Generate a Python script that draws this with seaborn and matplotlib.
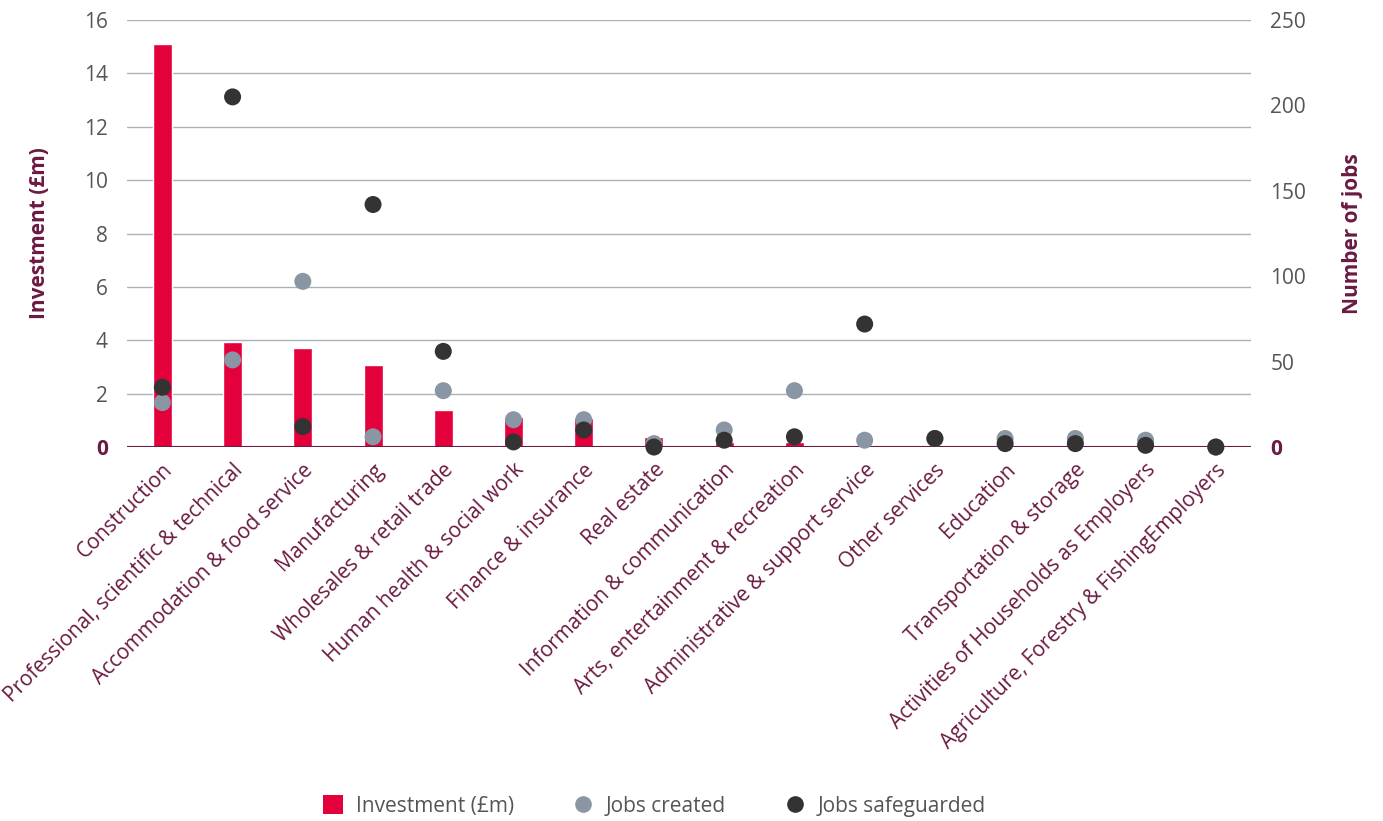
import numpy as np
import pandas as pd
import matplotlib
matplotlib.use("Agg")
import matplotlib.pyplot as plt
import seaborn as sns
from matplotlib.lines import Line2D
from matplotlib.patches import Patch

# data
sectors = ["Construction", "Professional, scientific & technical", "Accommodation & food service",
           "Manufacturing", "Wholesales & retail trade", "Human health & social work",
           "Finance & insurance", "Real estate", "Information & communication",
           "Arts, entertainment & recreation", "Administrative & support service",
           "Other services", "Education", "Transportation & storage",
           "Activities of Households as Employers", "Agriculture, Forestry & FishingEmployers"]
investment = [15.1, 3.93, 3.71, 3.07, 1.39, 1.12, 1.09, 0.37, 0.18, 0.18, 0.02, 0.01, 0.01, 0.01, 0.0, 0.0]
jobs_created = [26, 51, 97, 6, 33, 16, 16, 2, 10, 33, 4, 5, 5, 5, 4, 0]
jobs_safeguarded = [35, 205, 12, 142, 56, 3, 10, 0, 4, 6, 72, 5, 2, 2, 1, 0]

red = "#e4003b"
grey = "#8a96a3"
dark = "#333333"
maroon = "#6b1a42"
txt = "#555555"

sns.set_style("white")
plt.rcParams["font.family"] = ["Open Sans", "DejaVu Sans"]

fig = plt.figure(figsize=(13.83, 8.21), dpi=100)
ax = fig.add_axes([0.092, 0.4555, 0.8125, 0.5201])

df_bar = pd.DataFrame({"sector": sectors, "investment": investment})
sns.barplot(data=df_bar, x="sector", y="investment", color=red, width=0.27,
            saturation=1, ax=ax, zorder=2)
ax.set_xlim(-0.5, len(sectors) - 0.5)
ax.set_ylim(0, 16)
ax.set_yticks(np.arange(0, 17, 2))
ax.yaxis.grid(True, color="#a9b1bb", linewidth=1, zorder=0)
ax.set_axisbelow(True)
for s in ax.spines.values():
    s.set_visible(False)
ax.axhline(0, color=maroon, linewidth=1.5, zorder=3)
ax.tick_params(axis="both", length=0, pad=14)
ax.set_yticklabels(["0"] + [str(v) for v in range(2, 17, 2)], fontsize=15, color=txt)
ax.get_yticklabels()[0].set_color(maroon)
ax.get_yticklabels()[0].set_fontweight("bold")
ax.set_xticks(range(len(sectors)))
ax.set_xticklabels(sectors, rotation=45, ha="right", rotation_mode="anchor",
                   fontsize=15, color=maroon)
ax.tick_params(axis="x", pad=9)
ax.set_xlabel("")
ax.set_ylabel("Investment (£m)", fontsize=15, color=maroon, fontweight="bold", labelpad=24)

ax2 = ax.twinx()
pos = np.arange(len(sectors))
df_pts = pd.DataFrame({
    "pos": np.concatenate([pos, pos]),
    "jobs": jobs_created + jobs_safeguarded,
    "series": ["Jobs created"] * len(sectors) + ["Jobs safeguarded"] * len(sectors),
})
sns.scatterplot(data=df_pts, x="pos", y="jobs", hue="series",
                palette={"Jobs created": grey, "Jobs safeguarded": dark},
                s=150, edgecolor="none", legend=False, ax=ax2, zorder=4, clip_on=False)
ax2.set_ylim(0, 250)
ax2.set_xlim(-0.5, len(sectors) - 0.5)
ax2.set_yticks(np.arange(0, 251, 50))
ax2.set_yticklabels(["0"] + [str(v) for v in range(50, 251, 50)], fontsize=15, color=txt)
ax2.get_yticklabels()[0].set_color(maroon)
ax2.get_yticklabels()[0].set_fontweight("bold")
ax2.tick_params(axis="y", length=0, pad=14)
for s in ax2.spines.values():
    s.set_visible(False)
ax2.set_xlabel("")
ax2.set_ylabel("Number of jobs", fontsize=15, color=maroon, fontweight="bold", labelpad=26)

handles = [Patch(facecolor=red, edgecolor="none"),
           Line2D([], [], marker="o", linestyle="none", markersize=12, markerfacecolor=grey, markeredgecolor="none"),
           Line2D([], [], marker="o", linestyle="none", markersize=12, markerfacecolor=dark, markeredgecolor="none")]
leg = fig.legend(handles, ["Investment (£m)", "Jobs created", "Jobs safeguarded"],
                 loc="center", bbox_to_anchor=(0.473, 0.018), ncol=3, frameon=False,
                 fontsize=15, handlelength=1.0, handleheight=1.0, columnspacing=2.8, handletextpad=0.6)
for t in leg.get_texts():
    t.set_color(txt)

fig.savefig("out.png", dpi=100)
